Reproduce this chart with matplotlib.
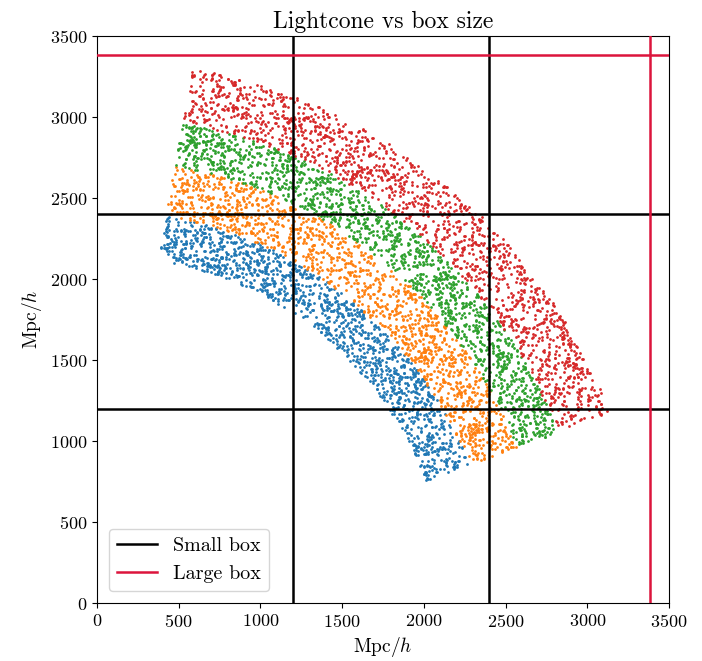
import numpy as np
import matplotlib
matplotlib.use("Agg")
import matplotlib.pyplot as plt

plt.rcParams["font.family"] = ["cmr10", "DejaVu Serif"]
plt.rcParams["mathtext.fontset"] = "cm"
plt.rcParams["axes.formatter.use_mathtext"] = True
plt.rcParams["axes.unicode_minus"] = False

# Lightcone shells (comoving distance, Mpc/h) and angular extent (degrees)
shell_edges = [2150, 2430, 2740, 3010, 3350]
shell_colors = ["#1f77b4", "#ff7f0e", "#2ca02c", "#d62728"]
shell_counts = [1400, 1400, 1500, 1600]
angle_range = [20.5, 80.0]

small_box = 1200
large_box = 3385
axis_limits = [0, 3500]
tick_values = [0, 500, 1000, 1500, 2000, 2500, 3000, 3500]

fig = plt.figure(figsize=(7.02, 6.61), dpi=100)
ax = fig.add_axes([0.138, 0.0877, 0.815, 0.8578])

rng = np.random.default_rng(7)
for i, color in enumerate(shell_colors):
    r1, r2 = shell_edges[i], shell_edges[i + 1]
    n = shell_counts[i]
    r = np.sqrt(rng.uniform(r1**2, r2**2, n))
    th = np.deg2rad(rng.uniform(angle_range[0], angle_range[1], n))
    ax.scatter(r * np.cos(th), r * np.sin(th), s=4, color=color,
               linewidths=0, zorder=2)

for k in (1, 2):
    ax.axvline(small_box * k, color="black", lw=1.8, zorder=3)
    ax.axhline(small_box * k, color="black", lw=1.8, zorder=3,
               label="Small box" if k == 1 else None)
ax.axvline(large_box, color="crimson", lw=1.8, zorder=3)
ax.axhline(large_box, color="crimson", lw=1.8, zorder=3, label="Large box")

ax.set_xlim(axis_limits)
ax.set_ylim(axis_limits)
ax.set_xticks(tick_values)
ax.set_yticks(tick_values)
ax.tick_params(labelsize=13)
ax.set_xlabel(r"Mpc/$h$", fontsize=14)
ax.set_ylabel(r"Mpc/$h$", fontsize=14)
ax.set_title("Lightcone vs box size", fontsize=17)
ax.legend(loc="lower left", fontsize=14.5, handlelength=2.0,
          borderaxespad=0.6)

fig.savefig("out.png", dpi=100)
